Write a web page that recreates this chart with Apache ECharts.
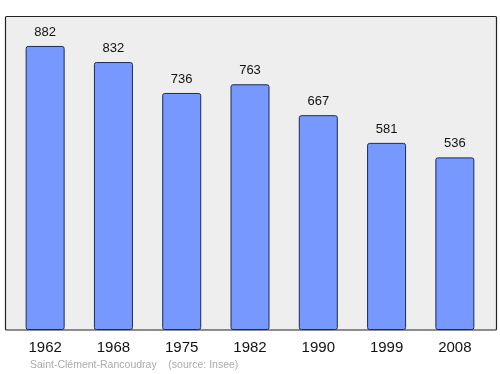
<!DOCTYPE html>
<html><head><meta charset="utf-8">
<script src="https://cdn.jsdelivr.net/npm/echarts@6/dist/echarts.min.js"></script>
<style>html,body{margin:0;padding:0;background:#fff}#c{width:500px;height:374px}</style>
</head><body><div id="c"></div>
<script>
var years = ['1962','1968','1975','1982','1990','1999','2008'];
var population = [882, 832, 736, 763, 667, 581, 536];
var footer = 'Saint-Clément-Rancoudray    (source: Insee)';

var FONT = '"Liberation Sans", Arial, sans-serif';
var chart = echarts.init(document.getElementById('c'), null, {renderer:'canvas'});
chart.setOption({
  animation: false,
  graphic: [
    {type:'rect', z:-10, shape:{x:5.5,y:16.5,width:491,height:313.5,r:1}, style:{fill:'#eeeeee',stroke:'#222',lineWidth:1.2}},
    {type:'text', left:30, top:360, style:{text:footer, fill:'#aaaaaa', font:'10.5px "Liberation Sans", Arial, sans-serif'}}
  ],
  grid: {left:11, right:11, top:16, bottom:44},
  xAxis: {
    type:'category', data: years,
    axisLine:{show:false}, axisTick:{show:false},
    axisLabel:{color:'#111', fontSize:15, margin:10, fontFamily:FONT}
  },
  yAxis: {type:'value', min:0, max:975, show:false, splitLine:{show:false}},
  series: [{
    type:'bar', data: population, barWidth:39,
    itemStyle:{color:'#7799ff', borderColor:'#1c2a55', borderWidth:1, borderRadius:2},
    label:{show:true, position:'top', distance:7, color:'#111', fontSize:13, fontFamily:FONT}
  }]
});
</script></body></html>
